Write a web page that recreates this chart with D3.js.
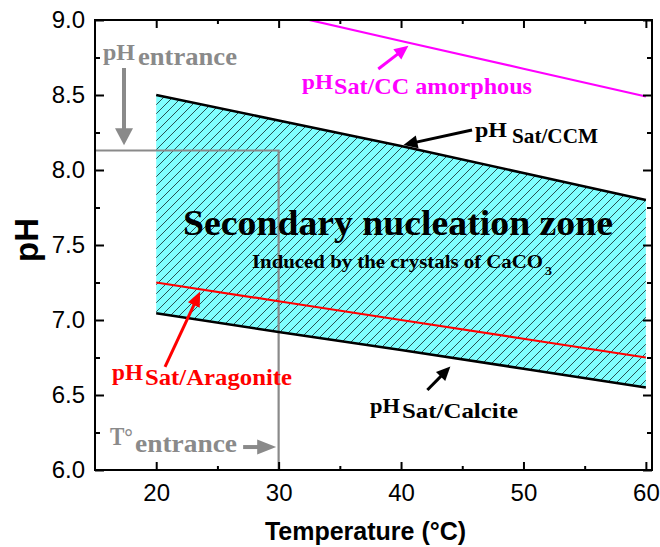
<!DOCTYPE html>
<html><head><meta charset="utf-8">
<script src="https://cdn.jsdelivr.net/npm/d3@7"></script>
<style>body{margin:0;background:#fff}svg{display:block}</style>
</head><body>
<svg id="chart" width="660" height="547"></svg>
<script>
// ---- data ----
const temps = [20, 30, 40, 50, 60];
const phCCM = [8.50, 8.33, 8.16, 7.98, 7.80];
const phCalcite = [7.045, 6.92, 6.80, 6.675, 6.55];
const phAragonite = [7.25, 7.125, 7.00, 6.875, 6.75];
const ampTemps = [32.5, 40, 50, 60];
const phAmorphous = [9.00, 8.86, 8.675, 8.49];
const pHEntrance = 8.13;
const tEntrance = 30;
const xTicks = [20, 30, 40, 50, 60];
const xMinor = [25, 35, 45, 55];
const yTicks = [6.0, 6.5, 7.0, 7.5, 8.0, 8.5, 9.0];
const yMinor = [6.25, 6.75, 7.25, 7.75, 8.25, 8.75];

const svg = d3.select("#chart");
const L = 95, R = 652, T = 20, B = 470;
const x = d3.scaleLinear().domain([15, 60.5]).range([L, R]);
const y = d3.scaleLinear().domain([6, 9]).range([B, T]);

const defs = svg.append("defs");
defs.append("clipPath").attr("id", "clip").append("rect")
  .attr("x", L).attr("y", T).attr("width", R - L).attr("height", B - T);
const pat = defs.append("pattern").attr("id", "hatch").attr("patternUnits", "userSpaceOnUse")
  .attr("width", 9).attr("height", 9);
pat.append("rect").attr("width", 9).attr("height", 9).attr("fill", "#80FFFF");
pat.append("path").attr("d", "M0,9 L9,0 M-1,1 L1,-1 M8,10 L10,8")
  .attr("stroke", "#1f3f3f").attr("stroke-width", 0.9);

const g = svg.append("g").attr("clip-path", "url(#clip)");

// zone fill
const zone = temps.map((t, i) => [t, phCCM[i]]).concat(temps.map((t, i) => [t, phCalcite[i]]).reverse());
g.append("path").attr("d", d3.line().x(d => x(d[0])).y(d => y(d[1]))(zone) + "Z")
  .attr("fill", "url(#hatch)");

const line = d3.line().x(d => x(d[0])).y(d => y(d[1]));
function drawLine(xs, ys, color, w) {
  g.append("path").attr("d", line(xs.map((t, i) => [t, ys[i]])))
    .attr("fill", "none").attr("stroke", color).attr("stroke-width", w);
}
// entrance lines
g.append("path").attr("d", line([[15, pHEntrance], [tEntrance, pHEntrance], [tEntrance, 6]]))
  .attr("fill", "none").attr("stroke", "#8a8a8a").attr("stroke-width", 2.2);
drawLine(temps, phAragonite, "#ff0000", 2.2);
drawLine(temps, phCCM, "#000", 2.6);
drawLine(temps, phCalcite, "#000", 2.6);
drawLine(ampTemps, phAmorphous, "#ff00ff", 2.2);

// arrows (data coords)
function arrow(x1, y1, x2, y2, color, w, hl, hw) {
  const X1 = x(x1), Y1 = y(y1), X2 = x(x2), Y2 = y(y2);
  const dx = X2 - X1, dy = Y2 - Y1, len = Math.hypot(dx, dy);
  const ux = dx / len, uy = dy / len, px = -uy, py = ux;
  const bx = X2 - ux * hl, by = Y2 - uy * hl;
  svg.append("line").attr("x1", X1).attr("y1", Y1).attr("x2", bx + ux * 2).attr("y2", by + uy * 2)
    .attr("stroke", color).attr("stroke-width", w);
  svg.append("path").attr("d", `M${X2},${Y2} L${bx + px * hw / 2},${by + py * hw / 2} L${bx - px * hw / 2},${by - py * hw / 2} Z`)
    .attr("fill", color);
}
arrow(17.37, 8.68, 17.37, 8.165, "#8a8a8a", 4, 17, 18);
arrow(27.1, 6.153, 29.8, 6.153, "#8a8a8a", 4, 19, 15);
arrow(45.8, 8.267, 40.2, 8.167, "#000", 3, 14, 13);
arrow(42.15, 6.533, 44.03, 6.69, "#000", 3, 14, 13);
arrow(20.72, 6.687, 23.59, 7.19, "#ff0000", 3, 15, 13);
arrow(38.14, 8.673, 40.6, 8.828, "#ff00ff", 3, 14, 13);

// serif labels: [text, x, baseline, size, width, color]
const serif = "'Liberation Serif', 'DejaVu Serif', serif";
const labels = [
  ["pH", 103, 60, 23, 32, "#8a8a8a"], ["entrance", 138, 65, 26, 99, "#8a8a8a"],
  ["pH", 302, 89, 22, 31, "#ff00ff"], ["Sat/CC amorphous", 334, 94, 23, 198, "#ff00ff"],
  ["pH", 475, 137, 21, 32, "#000"], ["Sat/CCM", 512, 143, 21, 86, "#000"],
  ["Secondary nucleation zone", 183, 235, 35, 430, "#000"],
  ["Induced by the crystals of CaCO", 252, 268, 18.5, 291, "#000"], ["3", 545, 275, 13, 7, "#000"],
  ["pH", 112, 380, 23, 31, "#ff0000"], ["Sat/Aragonite", 145, 385, 23, 147, "#ff0000"],
  ["pH", 370, 413, 22, 30, "#000"], ["Sat/Calcite", 402, 418, 21, 116, "#000"],
  ["T°", 110, 445, 25, 23, "#8a8a8a"], ["entrance", 135, 452, 26, 102, "#8a8a8a"]
];
labels.forEach(d => {
  svg.append("text").attr("x", d[1]).attr("y", d[2]).text(d[0])
    .attr("font-family", serif).attr("font-weight", "bold").attr("font-size", d[3])
    .attr("fill", d[5]).attr("textLength", d[4]).attr("lengthAdjust", "spacingAndGlyphs");
});

// axes
const sans = "'Liberation Sans', Arial, sans-serif";
function styleAxis(sel) {
  sel.select(".domain").remove();
  sel.selectAll(".tick line").attr("stroke", "#000").attr("stroke-width", 2);
  sel.selectAll("text").attr("font-family", sans).attr("font-size", 24).attr("fill", "#000");
}
svg.append("g").attr("transform", `translate(0,${B})`)
  .call(d3.axisBottom(x).tickValues(xTicks).tickSize(-8).tickPadding(14).tickFormat(d3.format("d"))).call(styleAxis);
svg.append("g").attr("transform", `translate(0,${B})`)
  .call(d3.axisBottom(x).tickValues(xMinor).tickSize(-4).tickFormat("")).call(styleAxis);
svg.append("g").attr("transform", `translate(0,${T})`)
  .call(d3.axisTop(x).tickValues(xTicks).tickSize(-8).tickFormat("")).call(styleAxis);
svg.append("g").attr("transform", `translate(0,${T})`)
  .call(d3.axisTop(x).tickValues(xMinor).tickSize(-4).tickFormat("")).call(styleAxis);
svg.append("g").attr("transform", `translate(${L},0)`)
  .call(d3.axisLeft(y).tickValues(yTicks).tickSize(-9).tickPadding(10).tickFormat(d3.format(".1f"))).call(styleAxis);
svg.append("g").attr("transform", `translate(${L},0)`)
  .call(d3.axisLeft(y).tickValues(yMinor).tickSize(-5).tickFormat("")).call(styleAxis);
svg.append("g").attr("transform", `translate(${R},0)`)
  .call(d3.axisRight(y).tickValues(yTicks).tickSize(-9).tickFormat("")).call(styleAxis);
svg.append("g").attr("transform", `translate(${R},0)`)
  .call(d3.axisRight(y).tickValues(yMinor).tickSize(-5).tickFormat("")).call(styleAxis);

svg.append("rect").attr("x", L).attr("y", T).attr("width", R - L).attr("height", B - T)
  .attr("fill", "none").attr("stroke", "#000").attr("stroke-width", 2);

svg.append("text").attr("x", (L + R) / 2 - 8).attr("y", 540).attr("text-anchor", "middle")
  .attr("font-family", sans).attr("font-weight", "bold").attr("font-size", 25).text("Temperature (°C)");
svg.append("text").attr("transform", "translate(38,240) rotate(-90)").attr("text-anchor", "middle")
  .attr("font-family", sans).attr("font-weight", "bold").attr("font-size", 33).text("pH");
</script>
</body></html>
